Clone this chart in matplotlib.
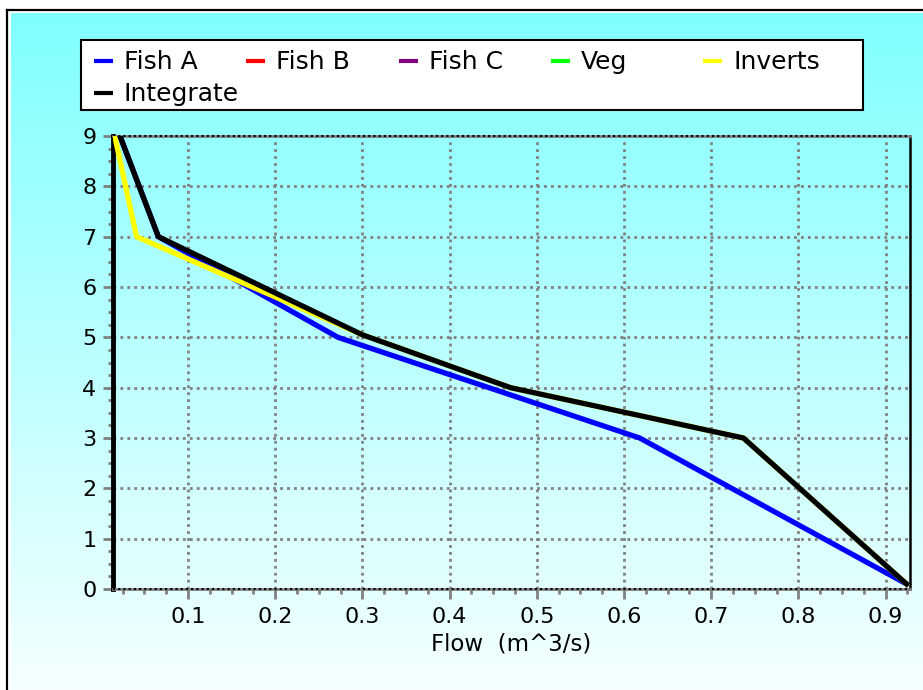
import numpy as np
import matplotlib
matplotlib.use("Agg")
import matplotlib.pyplot as plt
from matplotlib.ticker import MultipleLocator
from matplotlib.patches import Rectangle

# series (flow in m^3/s, score 0-9)
fish_a_flow = [0.022, 0.066, 0.272, 0.618, 0.924]
fish_a_score = [9, 7, 5.0, 3.0, 0.1]
fish_b_flow, fish_b_score = [], []
fish_c_flow, fish_c_score = [], []
veg_flow, veg_score = [], []
inverts_flow = [0.016, 0.041, 0.30, 0.47, 0.737, 0.924]
inverts_score = [9, 7, 5.05, 4.0, 3.0, 0.1]
integrate_flow = [0.022, 0.066, 0.30, 0.47, 0.737, 0.924]
integrate_score = [9, 7, 5.05, 4.0, 3.0, 0.1]

names = ["Fish A", "Fish B", "Fish C", "Veg", "Inverts", "Integrate"]
colors = ["#0000FF", "#FF0000", "#800080", "#00FF00", "#FFFF00", "#000000"]
x_ticks = [0.1, 0.2, 0.3, 0.4, 0.5, 0.6, 0.7, 0.8, 0.9]
y_ticks = [0, 1, 2, 3, 4, 5, 6, 7, 8, 9]

W, H = 923, 690
fig = plt.figure(figsize=(W / 100, H / 100), dpi=100)
fig.patch.set_facecolor("white")

# background: cyan gradient with frame, drawn in pixel coords
bg = fig.add_axes([0, 0, 1, 1])
bg.set_xlim(0, W)
bg.set_ylim(H, 0)
bg.axis("off")
grad = np.linspace(0, 1, 256)[:, None]
img = np.zeros((256, 1, 3))
img[:, :, 0] = (128 + (245 - 128) * grad) / 255
img[:, :, 1] = 1.0
img[:, :, 2] = 1.0
bg.imshow(img, extent=[11, W, H, 13], aspect="auto", zorder=0)
bg.plot([7, W], [10, 10], color="black", lw=1.6, zorder=1)
bg.plot([7, 7], [10, H], color="black", lw=1.6, zorder=1)

# legend box
bg.add_patch(Rectangle((81, 40), 782, 70, facecolor="white", edgecolor="black", lw=1.5, zorder=2))
for i, (name, c) in enumerate(zip(names, colors)):
    col, row = i % 5, i // 5
    x0 = 94 + col * 152.3
    y0 = 61 + row * 32
    bg.plot([x0, x0 + 19], [y0, y0], color=c, lw=3, solid_capstyle="butt", zorder=3)
    bg.text(x0 + 30, y0 + 1, name, fontsize=18, va="center", ha="left", zorder=3)

ax = fig.add_axes([113 / W, 1 - 589 / H, (910 - 113) / W, (589 - 136) / H])
ax.set_facecolor("none")

series = [
    (fish_a_flow, fish_a_score),
    (fish_b_flow, fish_b_score),
    (fish_c_flow, fish_c_score),
    (veg_flow, veg_score),
    (inverts_flow, inverts_score),
    (integrate_flow, integrate_score),
]
for (xs, ys), c, name in zip(series, colors, names):
    ax.plot(xs, ys, color=c, lw=3.8, label=name, zorder=4)

ax.set_xlim(0.014, 0.928)
ax.set_ylim(0, 9)
ax.set_xticks(x_ticks)
ax.set_xticklabels([str(v) for v in x_ticks])
ax.set_yticks(y_ticks)
ax.xaxis.set_minor_locator(MultipleLocator(0.025))
ax.yaxis.set_minor_locator(MultipleLocator(0.25))

ax.grid(which="major", color="#808080", ls=(0, (1, 1.5)), lw=2, zorder=1)
ax.axhline(0, color="black", ls=(0, (1, 1.5)), lw=1.5, zorder=3, clip_on=False)
ax.axhline(9, color="black", ls=(0, (1, 1.5)), lw=1.5, zorder=3, clip_on=False)

ax.tick_params(which="major", direction="out", length=7, width=2, color="#808080", labelsize=16)
ax.tick_params(which="minor", direction="out", length=3.5, width=2, color="#808080")
ax.tick_params(axis="x", which="major", pad=6)
ax.tick_params(axis="y", which="major", pad=5)

for side in ["top", "bottom"]:
    ax.spines[side].set_color("#808080")
    ax.spines[side].set_linewidth(2)
ax.spines["left"].set_color("black")
ax.spines["left"].set_linewidth(3.5)
ax.spines["right"].set_color("black")
ax.spines["right"].set_linewidth(1.8)

ax.set_xlabel("Flow  (m^3/s)", fontsize=16.5, labelpad=4)

fig.savefig("out.png", dpi=100)
